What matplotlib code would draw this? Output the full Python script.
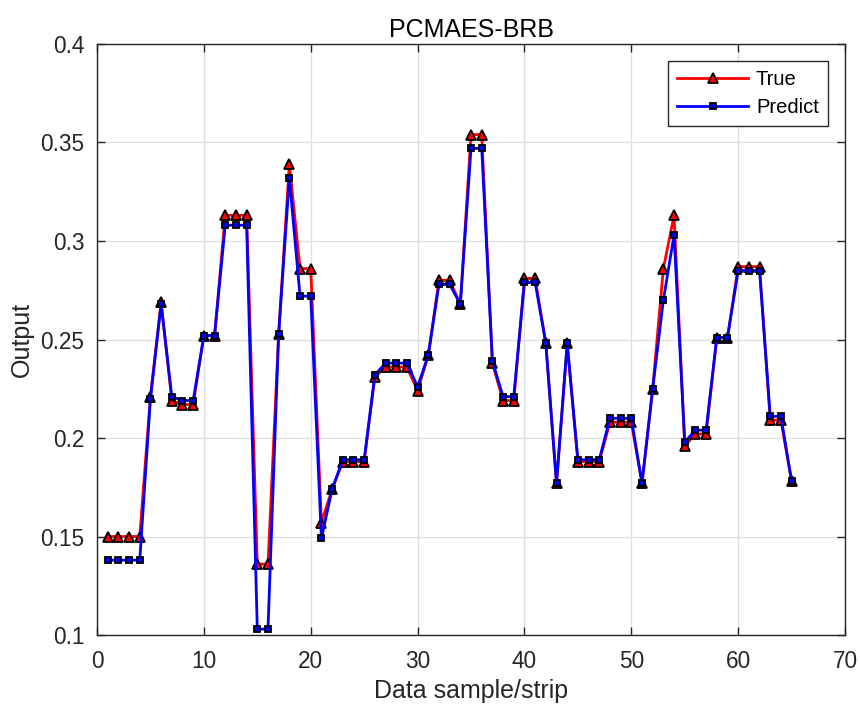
import matplotlib
matplotlib.use('Agg')
import matplotlib.pyplot as plt
from matplotlib.ticker import FuncFormatter
import numpy as np

plt.rcParams['font.family'] = ['Liberation Sans', 'DejaVu Sans']

samples = list(range(1, 66))
true_vals = [0.150, 0.150, 0.150, 0.150, 0.221, 0.269, 0.219, 0.217, 0.217, 0.252,
             0.252, 0.313, 0.313, 0.313, 0.136, 0.136, 0.253, 0.339, 0.286, 0.286,
             0.157, 0.174, 0.188, 0.188, 0.188, 0.231, 0.236, 0.236, 0.236, 0.224,
             0.242, 0.280, 0.280, 0.268, 0.354, 0.354, 0.238, 0.219, 0.219, 0.281,
             0.281, 0.248, 0.177, 0.248, 0.188, 0.188, 0.188, 0.208, 0.208, 0.208,
             0.177, 0.225, 0.286, 0.313, 0.196, 0.202, 0.202, 0.251, 0.251, 0.287,
             0.287, 0.287, 0.209, 0.209, 0.178]
pred_vals = [0.138, 0.138, 0.138, 0.138, 0.220, 0.268, 0.221, 0.219, 0.219, 0.252,
             0.252, 0.308, 0.308, 0.308, 0.103, 0.103, 0.253, 0.332, 0.272, 0.272,
             0.149, 0.174, 0.189, 0.189, 0.189, 0.232, 0.238, 0.238, 0.238, 0.226,
             0.242, 0.278, 0.278, 0.268, 0.347, 0.347, 0.239, 0.221, 0.221, 0.279,
             0.279, 0.248, 0.177, 0.248, 0.189, 0.189, 0.189, 0.210, 0.210, 0.210,
             0.177, 0.225, 0.270, 0.303, 0.198, 0.204, 0.204, 0.251, 0.251, 0.285,
             0.285, 0.285, 0.211, 0.211, 0.178]

fig = plt.figure(figsize=(8.6, 7.07), dpi=100)
ax = fig.add_axes([0.1128, 0.1018, 0.8698, 0.836])

ax.plot(samples, true_vals, color='red', linewidth=2, marker='^', markersize=6.5,
        markerfacecolor='red', markeredgecolor='black', markeredgewidth=1.3, label='True')
ax.plot(samples, pred_vals, color='blue', linewidth=2, marker='s', markersize=4,
        markerfacecolor='blue', markeredgecolor='black', markeredgewidth=1.3, label='Predict')

ax.set_xlim(0, 70)
ax.set_ylim(0.1, 0.4)
ax.set_xticks(np.arange(0, 71, 10))
ax.set_yticks(np.arange(0.1, 0.401, 0.05))
ax.yaxis.set_major_formatter(FuncFormatter(lambda v, p: '%g' % round(v, 2)))

ax.grid(True, color='#dedede', linewidth=0.9)
ax.set_axisbelow(True)
ax.tick_params(direction='in', top=True, right=True, length=6, labelsize=16.3,
               colors='#262626', width=1)
ax.tick_params(axis='x', pad=11)
ax.tick_params(axis='y', pad=9)
for s in ax.spines.values():
    s.set_color('#262626')
    s.set_linewidth(1)

ax.set_title('PCMAES-BRB', fontsize=18, color='black', pad=5)
ax.set_xlabel('Data sample/strip', fontsize=18, color='#262626', labelpad=4)
ax.set_ylabel('Output', fontsize=18, color='#262626', labelpad=5)

leg = ax.legend(loc='upper right', fontsize=14.5, fancybox=False, framealpha=1,
                edgecolor='#262626', borderaxespad=0.85, handlelength=3.5,
                handletextpad=0.4, borderpad=0.45, labelspacing=0.45)
leg.get_frame().set_linewidth(1)

fig.savefig('out.png', dpi=100)
